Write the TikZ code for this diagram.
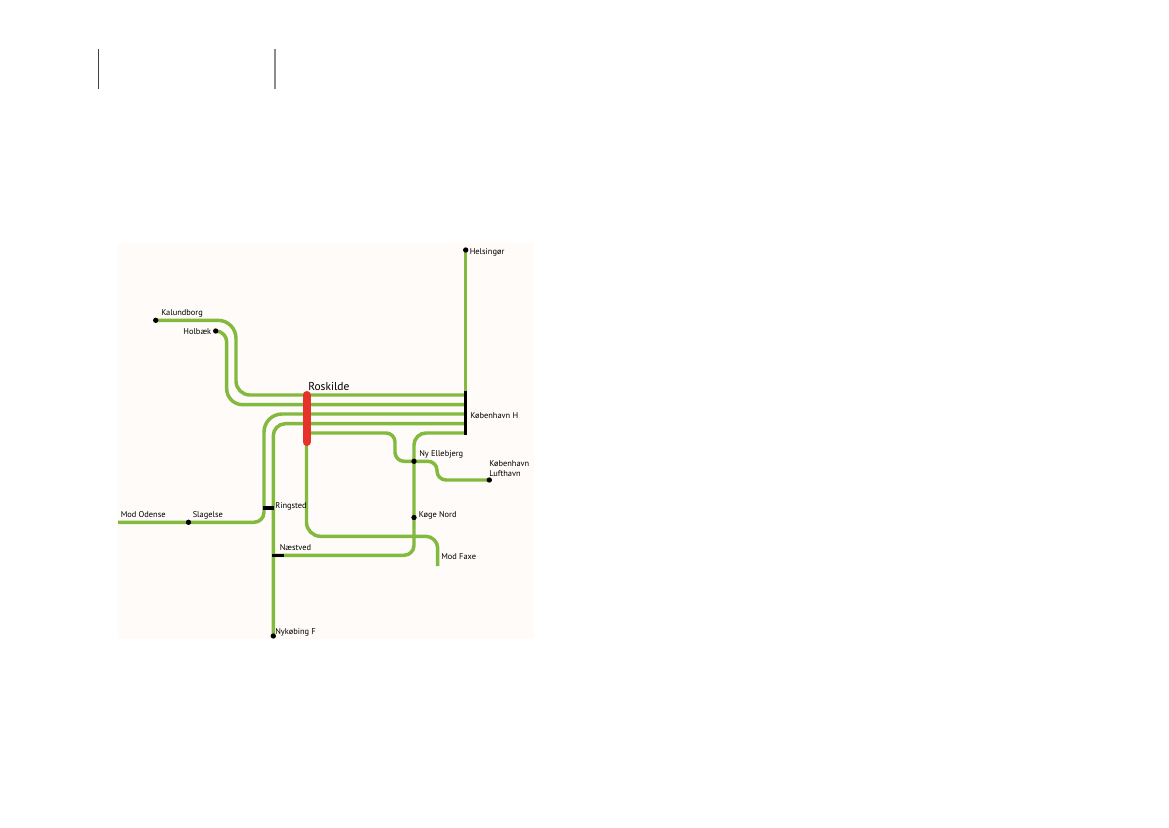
\documentclass[tikz,border=0pt]{standalone}
\usepackage{fontspec}
\setmainfont{PT Sans}
\definecolor{railgreen}{HTML}{83B93E}
\definecolor{panel}{HTML}{FEFBF8}
\definecolor{hubred}{HTML}{E5332A}
\pgfdeclarelayer{back}
\pgfsetlayers{back,main}
\tikzset{
  rail/.style={draw=railgreen,line width=2.6pt},
  bar/.style={draw=black,line width=2.6pt},
  stop/.style={circle,fill=black,inner sep=0pt,minimum size=4pt},
  lab/.style={inner sep=0pt,anchor=west,font=\fontsize{6.3}{7}\selectfont,text=black},
  labr/.style={lab,anchor=east},
  bigl/.style={inner sep=0pt,anchor=west,font=\fontsize{8.6}{10}\selectfont,text=black},
}
\begin{document}
\begin{tikzpicture}[x=0.75pt,y=-0.75pt]
\useasboundingbox (0,0) rectangle (1169,827);
% named points
\coordinate (kh1) at (465.7,395);
\coordinate (kh2) at (465.7,404.7);
\coordinate (kh3) at (465.7,414);
\coordinate (kh4) at (465.7,423.7);
\coordinate (kh5) at (465.7,433);
\coordinate (ro5) at (306.5,433);
\coordinate (odense) at (118,522.3);
\coordinate (faxe) at (437.7,566);
\coordinate (nae) at (273,555.3);
\coordinate (rosb) at (306.5,443);
% stops
\node[stop] (helsingor) at (465.7,250) {};
\node[stop] (kalundborg) at (155.7,320.3) {};
\node[stop] (holbaek) at (215.7,331) {};
\node[stop] (slagelse) at (188.5,522.3) {};
\node[stop] (nykobing) at (273.3,636) {};
\node[stop] (ellebjerg) at (414,461.3) {};
\node[stop] (koge) at (414,517.5) {};
\node[stop] (lufthavn) at (489.3,480) {};
% rails
\begin{pgfonlayer}{back}
\fill[panel] (118,243) rectangle (534,639);
\draw[rail] (helsingor.center) -- (kh1);
\draw[rail] (kalundborg.center) [rounded corners=18*0.75pt] -- (236,320.3) [rounded corners=14*0.75pt] -- (236,395) -- (kh1);
\draw[rail] (holbaek.center) [rounded corners=11*0.75pt] -- (226.7,331) [rounded corners=16*0.75pt] -- (226.7,404.7) -- (kh2);
\draw[rail] (odense) [rounded corners=10*0.75pt] -- (264,522.3) [rounded corners=18*0.75pt] -- (264,414) -- (kh3);
\draw[rail,rounded corners=12*0.75pt] (nykobing.center) -- (273.3,423.7) -- (kh4);
\draw[rail] (rosb) [rounded corners=14*0.75pt] -- (306.5,536.3) [rounded corners=12*0.75pt] -- (437.7,536.3) -- (faxe);
\draw[rail] (nae) [rounded corners=10*0.75pt] -- (414,555.3) [rounded corners=12*0.75pt] -- (414,433) -- (kh5);
\draw[rail,rounded corners=9*0.75pt] (ro5) -- (395,433) -- (395,461.3) -- (437,461.3) -- (437,480) -- (lufthavn.center);
\end{pgfonlayer}
% hub and bars
\draw[hubred,line width=6pt,line cap=round] (306.5,395) -- (306.5,442);
\draw[bar] (465.7,391) -- (465.7,434.5);
\draw[bar] (262.5,508) -- (274,508);
\draw[bar] (272,555.3) -- (284,555.3);
% labels
\node[lab] (lhel) at (469.5,252) {Helsingør};
\node[lab] (lkal) at (161,313) {Kalundborg};
\node[labr] (lhol) at (211.5,332) {Holbæk};
\node[bigl] (lros) at (308,387) {Roskilde};
\node[lab] (lkbh) at (470,416) {København H};
\node[lab] (lell) at (419,454) {Ny Ellebjerg};
\node[lab] (lkl1) at (489,463.5) {København};
\node[lab] (lkl2) at (489,473.5) {Lufthavn};
\node[lab] (lmod) at (120.5,515) {Mod Odense};
\node[lab] (lsla) at (192.5,515) {Slagelse};
\node[lab] (lrin) at (275,506) {Ringsted};
\node[lab] (lnae) at (279.5,548) {Næstved};
\node[lab] (lnyk) at (275,632.5) {Nykøbing F};
\node[lab] (lkog) at (418.5,515) {Køge Nord};
\node[lab] (lfax) at (441,557) {Mod Faxe};
% top marks
\coordinate (m1a) at (98.5,49);
\coordinate (m1b) at (98.5,89);
\coordinate (m2a) at (275,49);
\coordinate (m2b) at (275,89);
\draw[black!75,line width=0.7pt] (m1a) -- (m1b);
\draw[black!45,line width=0.9pt] (m2a) -- (m2b);
\end{tikzpicture}
\end{document}
